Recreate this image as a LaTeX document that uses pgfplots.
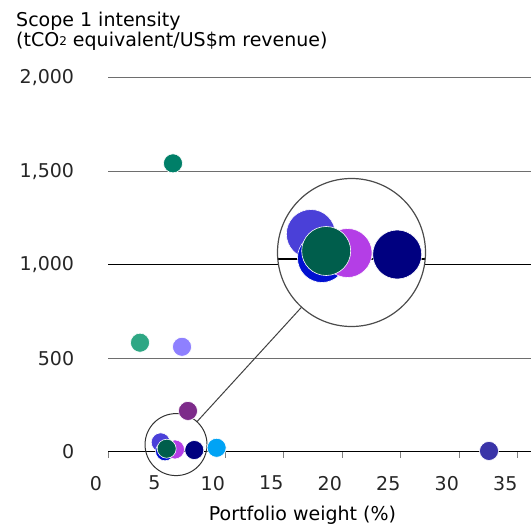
\documentclass[border=0pt]{standalone}
\usepackage{pgfplots}
\pgfplotsset{compat=1.18}
\usepackage{pgfplotstable}
\usepackage{fontspec}
\setmainfont{DejaVu Sans}
\usetikzlibrary{calc}

\definecolor{tealA}{HTML}{007F68}
\definecolor{tealB}{HTML}{2EA784}
\definecolor{lavender}{HTML}{8E80FF}
\definecolor{plum}{HTML}{7D2B8A}
\definecolor{skyblue}{HTML}{00A3F5}
\definecolor{navy}{HTML}{000080}
\definecolor{indigoA}{HTML}{4A40D8}
\definecolor{blueA}{HTML}{0010D0}
\definecolor{magentaA}{HTML}{B43EE6}
\definecolor{greenD}{HTML}{005E4C}
\definecolor{indigoD}{HTML}{3A34A8}
\definecolor{gridgray}{HTML}{6E6E6E}

% portfolio weight (%), scope 1 intensity, colour class
\pgfplotstableread{
x y cls
2.71 583 c2
5.53 1542 c1
6.30 561 c3
6.81 218 c4
9.26 21 c5
32.54 4 c11
4.48 50 c7
4.85 2 c8
5.70 12 c9
7.35 9 c6
4.99 16 c10
}\bubbles

\pgfplotsset{
  bubbles/.style={
    scatter, only marks, mark=*,
    scatter src=explicit symbolic,
    mark options={draw=white, line width=0.6pt},
    scatter/classes={
      c1={mark=*,draw=white,fill=tealA},
      c2={mark=*,draw=white,fill=tealB},
      c3={mark=*,draw=white,fill=lavender},
      c4={mark=*,draw=white,fill=plum},
      c5={mark=*,draw=white,fill=skyblue},
      c6={mark=*,draw=white,fill=navy},
      c7={mark=*,draw=white,fill=indigoA},
      c8={mark=*,draw=white,fill=blueA},
      c9={mark=*,draw=white,fill=magentaA},
      c10={mark=*,draw=white,fill=greenD},
      c11={mark=*,draw=white,fill=indigoD}
    }
  }
}

\newcommand{\lbl}{\fontsize{19}{22}\selectfont}

\begin{document}
\begin{tikzpicture}
\useasboundingbox (0pt,0pt) rectangle (531pt,-528pt);

\node[anchor=base west, inner sep=0pt] at (16pt,-26.7pt) {\lbl Scope 1 intensity};
\node[anchor=base west, inner sep=0pt] at (16pt,-46.7pt) {\lbl (tCO\raisebox{1pt}{\fontsize{12}{12}\selectfont 2} equivalent/US\$m revenue)};
\node[anchor=base, inner sep=0pt] at (302.5pt,-520.5pt) {\lbl Portfolio weight (\%)};

\begin{axis}[
  at={(108.3pt,-451.7pt)}, anchor=south west,
  scale only axis, width=422.7pt, height=374pt,
  xmin=0, xmax=36.13, ymin=0, ymax=2000,
  axis x line=bottom, axis y line=left,
  axis line style={-},
  y axis line style={draw=none},
  x axis line style={black, line width=1pt},
  xtick={0,5,...,35}, ytick={0,500,...,2000},
  xtick align=outside, major tick length=6pt,
  xtick style={draw=gray, line width=1.2pt},
  ytick style={draw=none},
  ymajorgrids, grid style={gridgray, line width=0.8pt},
  /pgf/number format/assume math mode=true,
  /pgf/number format/1000 sep={,},
  tick label style={font=\lbl, text=black!85},
  xticklabel style={anchor=north, inner sep=0pt, xshift=-12.5pt, yshift=-18pt},
  yticklabel style={anchor=east, inner sep=0pt, xshift=-31pt},
  clip=false,
]
\draw[black, line width=1pt] (axis cs:0,1000) -- (axis cs:36.13,1000);
\addplot[bubbles, mark size=9.5pt] table[x=x, y=y, meta=cls] {\bubbles};
\draw[black!80, line width=1pt] (axis cs:5.79,38) circle[radius=31pt];
\coordinate (sc) at (axis cs:5.79,38);
\end{axis}

\coordinate (bc) at (351.5pt,-252.5pt);
\draw[black!75, line width=1pt] ($(sc)!31pt!(bc)$) -- ($(bc)!74pt!(sc)$);

\fill[white] (bc) circle[radius=74pt];
\begin{scope}
\clip (bc) circle[radius=74pt];
\begin{axis}[
  at={(176pt,-259pt)}, anchor=south west,
  scale only axis, width=301pt, height=250pt,
  xmin=0, xmax=10, ymin=0, ymax=500,
  hide axis, clip=false,
]
\draw[black, line width=1.2pt] (axis cs:-5,0) -- (axis cs:15,0);
\addplot[bubbles, mark size=24.5pt] table[x=x, y=y, meta=cls] {\bubbles};
\end{axis}
\end{scope}
\draw[black!70, line width=1.2pt] (bc) circle[radius=74pt];
\end{tikzpicture}
\end{document}
